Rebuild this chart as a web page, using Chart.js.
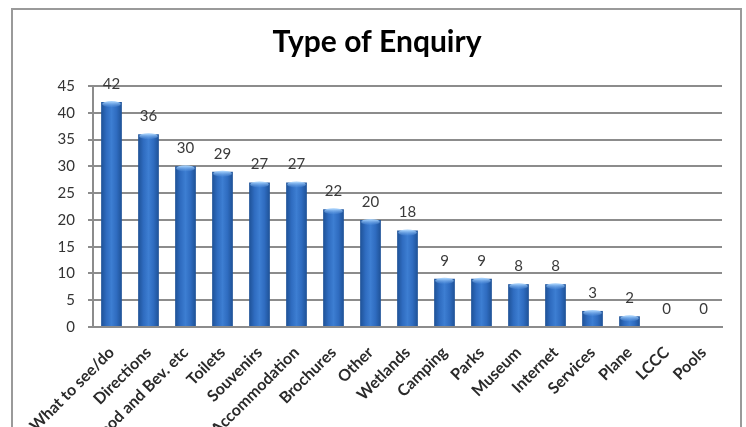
<!DOCTYPE html>
<html>
<head>
<meta charset="utf-8">
<script src="https://cdn.jsdelivr.net/npm/chart.js@4"></script>
<style>
    html, body { margin: 0; padding: 0; background: #fff; overflow: hidden; }
    #wrap { position: relative; width: 746px; height: 427px; }
    #frame {
        position: absolute; left: 11px; top: 8px; width: 731px; height: 440px;
        border: 2px solid #9a9a9a; box-sizing: border-box;
    }
    canvas { position: absolute; left: 0; top: 0; }
</style>
</head>
<body>
<div id="wrap">
    <div id="frame"></div>
    <canvas id="enquiryChart" width="746" height="427"></canvas>
</div>
<script>
const categories = ["What to see/do", "Directions", "Food and Bev. etc", "Toilets", "Souvenirs",
    "Accommodation", "Brochures", "Other", "Wetlands", "Camping", "Parks", "Museum",
    "Internet", "Services", "Plane", "LCCC", "Pools"];
const enquiries = [42, 36, 30, 29, 27, 27, 22, 20, 18, 9, 9, 8, 8, 3, 2, 0, 0];
const yTicks = [0, 5, 10, 15, 20, 25, 30, 35, 40, 45];

const FONT = "Lato, 'Open Sans', sans-serif";

// Cylinder-like shading across each bar
function barFill(ctx) {
    const chart = ctx.chart;
    const xScale = chart.scales.x;
    if (!chart.chartArea || !xScale) return "#2f6cbf";
    const cx = xScale.getPixelForValue(ctx.dataIndex);
    const half = 10;
    const g = chart.ctx.createLinearGradient(cx - half, 0, cx + half, 0);
    g.addColorStop(0, "#1f5399");
    g.addColorStop(0.25, "#2f6cc0");
    g.addColorStop(0.5, "#3d7ed2");
    g.addColorStop(0.75, "#2f6cc0");
    g.addColorStop(1, "#1f5399");
    return g;
}

// Light cap on top of each bar plus the value label above it
const barExtras = {
    id: "barExtras",
    afterDatasetsDraw(chart) {
        const ctx = chart.ctx;
        const meta = chart.getDatasetMeta(0);
        ctx.save();
        meta.data.forEach((bar, i) => {
            const v = enquiries[i];
            const w = bar.width;
            if (v > 0) {
                const g = ctx.createLinearGradient(0, bar.y, 0, bar.y + 6);
                g.addColorStop(0, "rgba(160,205,250,0.95)");
                g.addColorStop(1, "rgba(90,150,225,0)");
                ctx.fillStyle = g;
                ctx.beginPath();
                ctx.ellipse(bar.x, bar.y + 2, w / 2 - 1, 3, 0, 0, Math.PI * 2);
                ctx.fill();
            }
            ctx.fillStyle = "#3a3a3a";
            ctx.font = "15px " + FONT;
            ctx.textAlign = "center";
            ctx.textBaseline = "middle";
            ctx.fillText(String(v), bar.x, bar.y - 18);
        });
        ctx.restore();
    }
};

new Chart(document.getElementById("enquiryChart"), {
    type: "bar",
    data: {
        labels: categories,
        datasets: [{
            data: enquiries,
            backgroundColor: barFill,
            borderWidth: 0,
            categoryPercentage: 1,
            barPercentage: 0.56
        }]
    },
    options: {
        responsive: false,
        animation: false,
        events: [],
        layout: { padding: { left: 32, right: 24, top: 0, bottom: 0 } },
        plugins: {
            legend: { display: false },
            tooltip: { enabled: false },
            title: {
                display: true,
                text: "Type of Enquiry",
                color: "#000",
                font: { family: FONT, size: 30, weight: "bold" },
                padding: { top: 24, bottom: 26 }
            }
        },
        scales: {
            x: {
                afterFit(scale) { scale.height = 100; },
                grid: { display: false, drawTicks: false },
                border: { display: true, color: "#8c8c8c", width: 2 },
                ticks: {
                    color: "#2a2a2a",
                    font: { family: FONT, size: 16, weight: "bold" },
                    minRotation: 45,
                    maxRotation: 45,
                    autoSkip: false,
                    padding: 16
                }
            },
            y: {
                min: 0,
                max: 45,
                afterFit(scale) { scale.width = 61; },
                afterBuildTicks(scale) { scale.ticks = yTicks.map(v => ({ value: v })); },
                grid: { color: "#8c8c8c", lineWidth: 2, tickLength: 5 },
                border: { display: true, color: "#8c8c8c", width: 2 },
                ticks: {
                    color: "#333",
                    font: { family: FONT, size: 15 },
                    padding: 13
                }
            }
        }
    },
    plugins: [barExtras]
});
</script>
</body>
</html>
